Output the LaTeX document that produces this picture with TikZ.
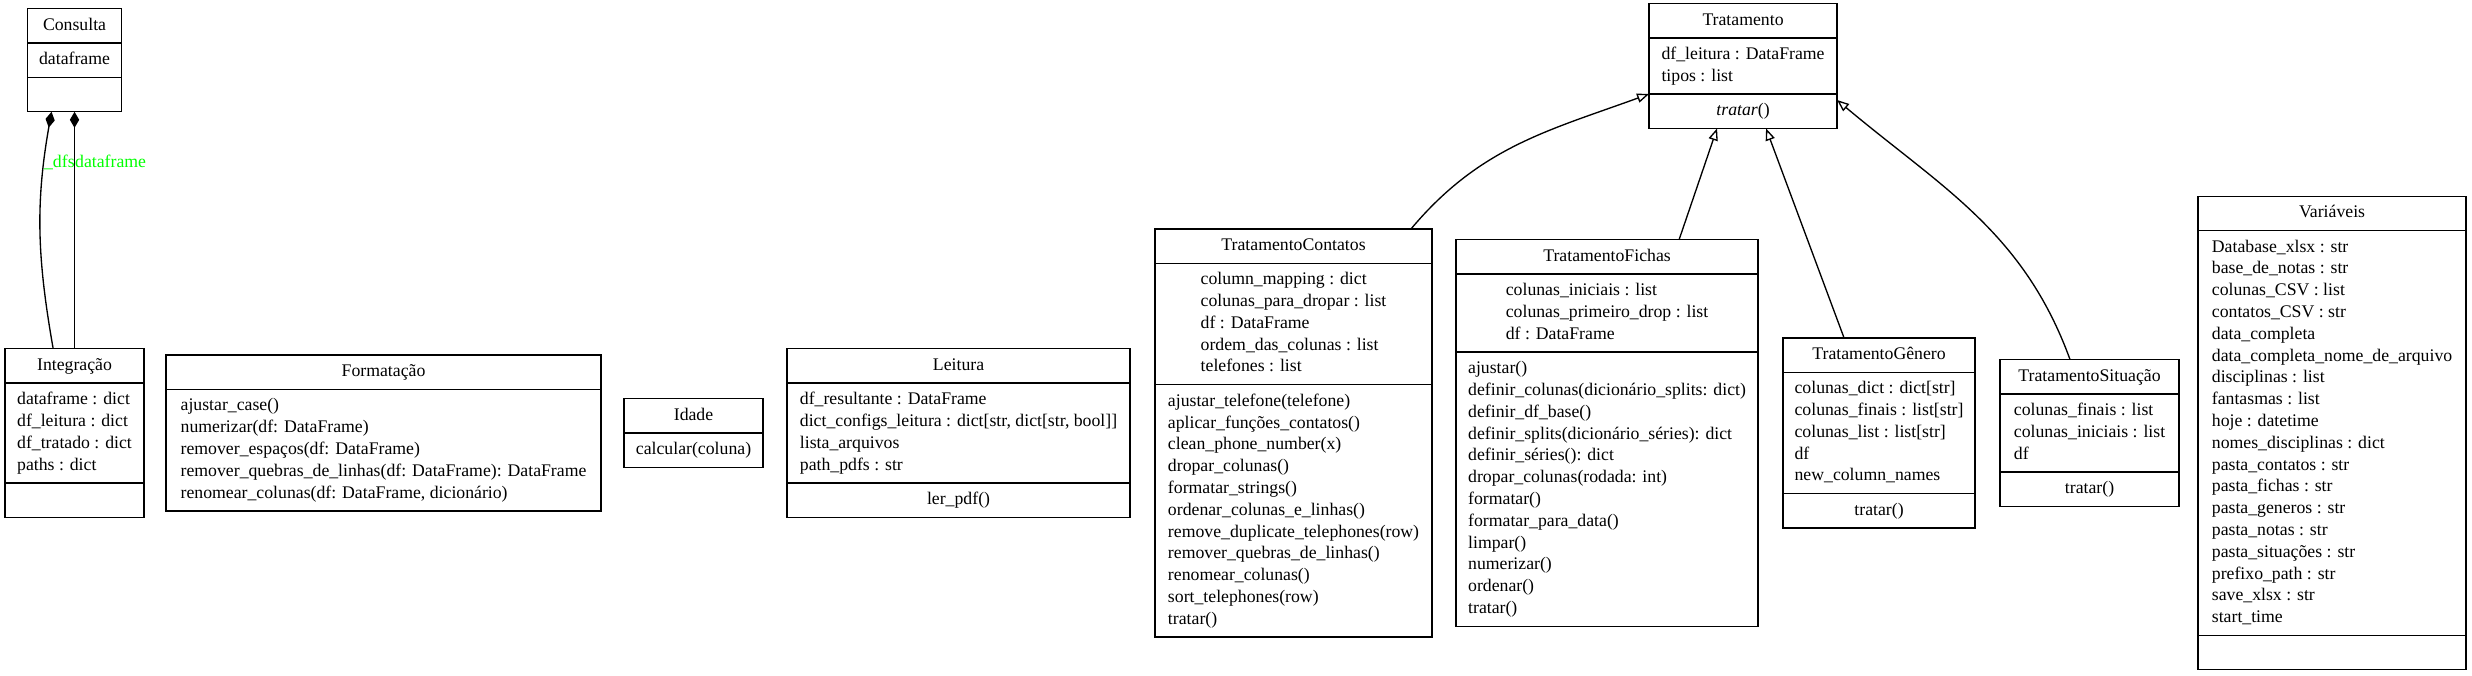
\documentclass[tikz,border=0pt]{standalone}
\usepackage{fontspec}
\setmainfont{Liberation Serif}
\usetikzlibrary{arrows.meta, shapes, calc, positioning}

\newcommand{\campo}[1]{\strut#1\strut}

\begin{document}
\begin{tikzpicture}[
    font=\fontsize{13.3}{16.35}\selectfont,
    classe/.style={draw, line width=1pt, rectangle split, rectangle split parts=3,
        align=left, inner xsep=4pt, inner ysep=4.2pt, outer sep=0pt},
    heranca/.style={line width=1pt, -{Triangle[open, length=9pt, width=7pt]}},
    composicao/.style={line width=1pt, -{Diamond[length=12pt, width=7pt]}},
    rotulo/.style={text=green, inner sep=0pt}
]
\useasboundingbox (0,0) rectangle (1854pt,-506.25pt);
\draw
    node [classe, minimum width=104.25pt] (integracao) at (55.9pt,-324.75pt)
        {\campo{Integração}
         \nodepart{second}\campo{dataframe : dict\\ df\_leitura : dict\\ df\_tratado : dict\\ paths : dict}
         \nodepart{third}\strut}
    node [classe, rectangle split parts=2, minimum width=326.25pt, right=16.5pt of integracao] (formatacao)
        {\campo{Formatação}
         \nodepart{second}\campo{ajustar\_case()\\ numerizar(df: DataFrame)\\ remover\_espaços(df: DataFrame)\\
            remover\_quebras\_de\_linhas(df: DataFrame): DataFrame\\ renomear\_colunas(df: DataFrame, dicionário)}}
    node [classe, rectangle split parts=2, minimum width=104.25pt, right=17.25pt of formatacao] (idade)
        {\campo{Idade}
         \nodepart{second}\campo{calcular(coluna)}}
    node [classe, minimum width=257.25pt, right=18pt of idade] (leitura)
        {\campo{Leitura}
         \nodepart{second}\campo{df\_resultante : DataFrame\\ dict\_configs\_leitura : dict[str, dict[str, bool]]\\
            lista\_arquivos\\ path\_pdfs : str}
         \nodepart{third}\campo{ler\_pdf()}}
    node [classe, minimum width=207.75pt, right=18.75pt of leitura] (contatos)
        {\campo{TratamentoContatos}
         \nodepart{second}\campo{column\_mapping : dict\\ colunas\_para\_dropar : list\\ df : DataFrame\\
            ordem\_das\_colunas : list\\ telefones : list}
         \nodepart{third}\campo{ajustar\_telefone(telefone)\\ aplicar\_funções\_contatos()\\ clean\_phone\_number(x)\\
            dropar\_colunas()\\ formatar\_strings()\\ ordenar\_colunas\_e\_linhas()\\
            remove\_duplicate\_telephones(row)\\ remover\_quebras\_de\_linhas()\\ renomear\_colunas()\\
            sort\_telephones(row)\\ tratar()}}
    node [classe, minimum width=226.5pt, right=18pt of contatos] (fichas)
        {\campo{TratamentoFichas}
         \nodepart{second}\campo{colunas\_iniciais : list\\ colunas\_primeiro\_drop : list\\ df : DataFrame}
         \nodepart{third}\campo{ajustar()\\ definir\_colunas(dicionário\_splits: dict)\\ definir\_df\_base()\\
            definir\_splits(dicionário\_séries): dict\\ definir\_séries(): dict\\ dropar\_colunas(rodada: int)\\
            formatar()\\ formatar\_para\_data()\\ limpar()\\ numerizar()\\ ordenar()\\ tratar()}}
    node [classe, minimum width=144pt, right=18.75pt of fichas] (genero)
        {\campo{TratamentoGênero}
         \nodepart{second}\campo{colunas\_dict : dict[str]\\ colunas\_finais : list[str]\\ colunas\_list : list[str]\\
            df\\ new\_column\_names}
         \nodepart{third}\campo{tratar()}}
    node [classe, minimum width=134.25pt, right=18.75pt of genero] (situacao)
        {\campo{TratamentoSituação}
         \nodepart{second}\campo{colunas\_finais : list\\ colunas\_iniciais : list\\ df}
         \nodepart{third}\campo{tratar()}}
    node [classe, minimum width=201pt, right=14.25pt of situacao] (variaveis)
        {\campo{Variáveis}
         \nodepart{second}\campo{Database\_xlsx : str\\ base\_de\_notas : str\\ colunas\_CSV : list\\ contatos\_CSV : str\\
            data\_completa\\ data\_completa\_nome\_de\_arquivo\\ disciplinas : list\\ fantasmas : list\\
            hoje : datetime\\ nomes\_disciplinas : dict\\ pasta\_contatos : str\\ pasta\_fichas : str\\
            pasta\_generos : str\\ pasta\_notas : str\\ pasta\_situações : str\\ prefixo\_path : str\\
            save\_xlsx : str\\ start\_time}
         \nodepart{third}\strut}
    node [classe, minimum width=70.5pt, above=177.75pt of integracao] (consulta)
        {\campo{Consulta}
         \nodepart{second}\campo{dataframe}
         \nodepart{third}\strut}
    node [classe, minimum width=141pt] (tratamento) at ($(fichas.center)!0.5!(genero.center)+(0,275.25pt)$)
        {\campo{Tratamento}
         \nodepart{second}\campo{df\_leitura : DataFrame\\ tipos : list}
         \nodepart{third}\campo{\textit{tratar}()}}
;
% composicao
\draw[composicao] ([xshift=-16pt]integracao.north) to[out=100, in=260]
    node[rotulo, pos=0.78, anchor=base west] {\_dfs} ([xshift=-17.25pt]consulta.south);
\draw[composicao] (integracao.north) -- node[rotulo, pos=0.765, anchor=base west] {dataframe} (consulta.south);
% heranca
\draw[heranca] ([xshift=-15.75pt]contatos.north east) to[out=50, in=200] ([yshift=-21pt]tratamento.west);
\draw[heranca] ([xshift=54pt]fichas.north) -- ([xshift=-19.5pt]tratamento.south);
\draw[heranca] ([xshift=-26.25pt]genero.north) -- ([xshift=17.25pt]tratamento.south);
\draw[heranca] ([xshift=-14.6pt]situacao.north) to[out=110, in=320] ([yshift=-25.5pt]tratamento.east);
\end{tikzpicture}
\end{document}
